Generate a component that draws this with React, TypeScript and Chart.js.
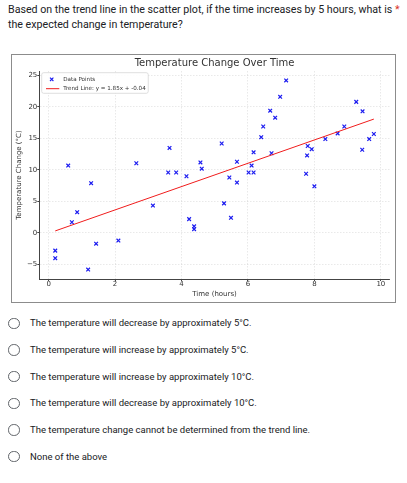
import React, { useEffect, useRef } from "react";
import { Chart, registerables } from "chart.js";

Chart.register(...registerables);
Chart.defaults.font.family = "'DejaVu Sans', sans-serif";

const timeHours = [0.2, 0.2, 0.59, 0.7, 0.86, 1.19, 1.28, 1.43, 2.1, 2.64, 3.14, 3.6, 3.64, 3.84, 4.15, 4.23, 4.38, 4.38, 4.57, 4.61, 5.21, 5.28, 5.44, 5.49, 5.67, 5.67, 6.02, 6.11, 6.17, 6.17, 6.4, 6.46, 6.67, 6.71, 6.82, 6.97, 7.15, 7.75, 7.78, 7.8, 7.92, 8.0, 8.33, 8.7, 8.9, 9.26, 9.44, 9.45, 9.65, 9.79];
const temperatureChange = [-2.8, -4.0, 10.7, 1.7, 3.3, -5.8, 7.9, -1.7, -1.2, 11.06, 4.35, 9.6, 13.5, 9.6, 9.0, 2.2, 1.06, 0.6, 11.2, 10.2, 14.2, 4.7, 8.8, 2.4, 11.3, 8.0, 9.6, 10.7, 9.6, 12.8, 15.2, 16.9, 19.4, 12.65, 18.3, 21.6, 24.2, 9.4, 12.3, 13.8, 13.3, 7.4, 14.9, 15.8, 16.9, 20.8, 13.2, 19.3, 14.9, 15.7];
const trendX = [0.2, 9.79];
const trendY = [0.33, 18.07];
const xTicks = [0, 2, 4, 6, 8, 10];
const yTicks = [-5, 0, 5, 10, 15, 20, 25];
const xRange = [-0.28, 10.27];
const yRange = [-7.3, 25.7];

const chartTitle = "Temperature Change Over Time";
const xTitle = "Time (hours)";
const yTitle = "Temperature Change (°C)";
const pointsLabel = "Data Points";
const trendLabel = "Trend Line: y = 1.85x + -0.04";

const questionLine1 = "Based on the trend line in the scatter plot, if the time increases by 5 hours, what is";
const questionLine2 = "the expected change in temperature?";
const answerOptions = [
  "The temperature will decrease by approximately 5°C.",
  "The temperature will increase by approximately 5°C.",
  "The temperature will increase by approximately 10°C.",
  "The temperature will decrease by approximately 10°C.",
  "The temperature change cannot be determined from the trend line.",
  "None of the above",
];

const BLUE = "#1c1cf0";
const RED = "#f01c1c";
const FONT = "'DejaVu Sans', sans-serif";

// Legend drawn inside the plot area (top-left), like matplotlib's "best" location
const insideLegend = {
  id: "insideLegend",
  afterDatasetsDraw(chart: any) {
    const ctx = chart.ctx;
    const ca = chart.chartArea;
    const ds = chart.data.datasets;
    const fs = 5.6;
    ctx.save();
    ctx.font = `${fs}px ${FONT}`;
    let maxW = 0;
    ds.forEach((d: any) => {
      maxW = Math.max(maxW, ctx.measureText(d.label).width);
    });
    const x0 = ca.left + 2.4;
    const y0 = ca.top + 1.7;
    const textX = x0 + 21.6;
    const x1 = textX + maxW + 2.5;
    const y1 = y0 + 20.6;
    ctx.beginPath();
    if (ctx.roundRect) ctx.roundRect(x0, y0, x1 - x0, y1 - y0, 2);
    else ctx.rect(x0, y0, x1 - x0, y1 - y0);
    ctx.fillStyle = "rgba(255,255,255,0.9)";
    ctx.fill();
    ctx.strokeStyle = "#d6d6d6";
    ctx.lineWidth = 0.8;
    ctx.stroke();

    const rows = [y0 + 6.6, y0 + 16];
    const mx = x0 + 10;
    const a = 1.7;
    ctx.strokeStyle = ds[0].borderColor;
    ctx.lineWidth = 1.1;
    ctx.beginPath();
    ctx.moveTo(mx - a, rows[0] - a);
    ctx.lineTo(mx + a, rows[0] + a);
    ctx.moveTo(mx - a, rows[0] + a);
    ctx.lineTo(mx + a, rows[0] - a);
    ctx.stroke();
    ctx.strokeStyle = ds[1].borderColor;
    ctx.lineWidth = 1;
    ctx.beginPath();
    ctx.moveTo(x0 + 4.3, rows[1]);
    ctx.lineTo(x0 + 17.6, rows[1]);
    ctx.stroke();

    ctx.fillStyle = "#333";
    ctx.textBaseline = "middle";
    ctx.textAlign = "left";
    ctx.fillText(ds[0].label, textX, rows[0]);
    ctx.fillText(ds[1].label, textX, rows[1]);
    ctx.restore();
  },
};

function ScatterChart() {
  const ref = useRef<HTMLCanvasElement | null>(null);
  useEffect(() => {
    if (!ref.current) return;
    const grid = {
      color: "rgba(0,0,0,0.11)",
      lineWidth: 0.8,
      drawTicks: true,
      tickLength: 2,
      tickColor: "#444",
      tickWidth: 1,
    };
    const border = { display: true, color: "#444", width: 1, dash: [1.5, 1.5] };
    const fmt = (v: number) => (v < 0 ? "\u2212" + Math.abs(v) : String(v));
    const chart = new Chart(ref.current, {
      type: "scatter",
      data: {
        datasets: [
          {
            label: pointsLabel,
            data: timeHours.map((x, i) => ({ x, y: temperatureChange[i] })),
            pointStyle: "crossRot",
            pointRadius: 2.6,
            pointBorderWidth: 1.2,
            borderColor: BLUE,
            backgroundColor: BLUE,
            order: 2,
          } as any,
          {
            type: "line",
            label: trendLabel,
            data: trendX.map((x, i) => ({ x, y: trendY[i] })),
            borderColor: RED,
            backgroundColor: RED,
            borderWidth: 1,
            pointRadius: 0,
            showLine: true,
            fill: false,
            order: 1,
          } as any,
        ],
      },
      options: {
        animation: false,
        responsive: false,
        devicePixelRatio: 1,
        layout: { padding: { left: 0, right: 5, top: 0, bottom: 0 } },
        plugins: {
          tooltip: { enabled: false },
          legend: { display: false },
          title: {
            display: true,
            fullSize: false,
            text: chartTitle,
            color: "#333",
            font: { size: 10, family: FONT, weight: "normal", lineHeight: 1.2 },
            padding: { top: 2, bottom: 2 },
          },
        },
        scales: {
          x: {
            type: "linear",
            min: xRange[0],
            max: xRange[1],
            afterBuildTicks: (s: any) => {
              s.ticks = xTicks.map((v) => ({ value: v }));
            },
            afterFit: (s: any) => {
              s.height = 23;
            },
            ticks: {
              color: "#333",
              font: { size: 7, family: FONT },
              padding: -1.3,
              maxRotation: 0,
              callback: (v: any) => fmt(Number(v)),
            },
            title: {
              display: true,
              text: xTitle,
              color: "#333",
              font: { size: 7, family: FONT },
              padding: { top: 0, bottom: 3.5 },
            },
            grid,
            border,
          },
          y: {
            type: "linear",
            min: yRange[0],
            max: yRange[1],
            afterBuildTicks: (s: any) => {
              s.ticks = yTicks.map((v) => ({ value: v }));
            },
            afterFit: (s: any) => {
              s.width = 27.3;
            },
            ticks: {
              color: "#333",
              font: { size: 7, family: FONT },
              padding: 0,
              callback: (v: any) => fmt(Number(v)),
            },
            title: {
              display: true,
              text: yTitle,
              color: "#333",
              font: { size: 7, family: FONT },
              padding: { top: 2.8, bottom: 0 },
            },
            grid,
            border,
          },
        },
      } as any,
      plugins: [insideLegend],
    });
    return () => chart.destroy();
  }, []);
  return <canvas ref={ref} width={383} height={247} style={{ display: "block", width: 383, height: 247 }} />;
}

export default function App() {
  const optionTop = 323.3;
  const optionStep = 26.67;
  return (
    <div
      style={{
        position: "absolute",
        left: 0,
        top: 0,
        width: 407,
        height: 483,
        background: "#fff",
        fontFamily: "Roboto, 'Noto Sans', sans-serif",
        color: "#202124",
        overflow: "hidden",
      }}
    >
      <div style={{ position: "absolute", left: 8, top: 1.5, fontSize: 10.65, lineHeight: "15px", whiteSpace: "nowrap" }}>
        <div>
          {questionLine1} <span style={{ color: "#d93025" }}>*</span>
        </div>
        <div>{questionLine2}</div>
      </div>
      <div
        style={{
          position: "absolute",
          left: 11,
          top: 54,
          width: 383,
          height: 247,
          border: "1px solid #8c8c8c",
        }}
      >
        <ScatterChart />
      </div>
      {answerOptions.map((t, i) => {
        const cy = optionTop + i * optionStep;
        return (
          <React.Fragment key={i}>
            <div
              style={{
                position: "absolute",
                left: 8.3,
                top: cy - 5.7,
                width: 11.4,
                height: 11.4,
                boxSizing: "border-box",
                border: "1.2px solid #5f6368",
                borderRadius: "50%",
              }}
            />
            <div
              style={{
                position: "absolute",
                left: 30,
                top: cy - 8,
                height: 16,
                lineHeight: "16px",
                fontSize: 9.5,
                whiteSpace: "nowrap",
              }}
            >
              {t}
            </div>
          </React.Fragment>
        );
      })}
    </div>
  );
}
